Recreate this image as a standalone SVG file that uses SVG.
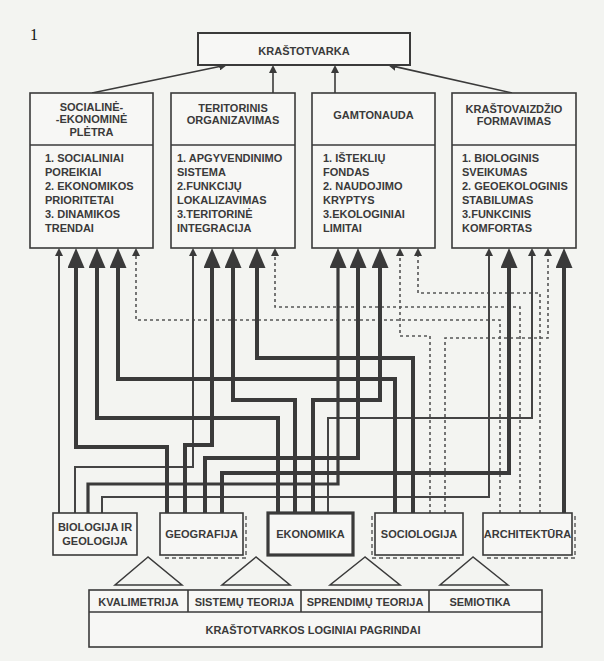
<svg xmlns="http://www.w3.org/2000/svg" width="604" height="661" viewBox="0 0 604 661">
<style>
  .box{fill:#f7f7f5;stroke:#3a3a3a;stroke-width:1.6}
  .sep{stroke:#3a3a3a;stroke-width:1.6}
  .t{font-family:"Liberation Sans",Arial,sans-serif;font-weight:bold;font-size:11px;fill:#3a3a3a}
  .c{text-anchor:middle}
  .thick{fill:none;stroke:#3a3a3a;stroke-width:4;marker-end:url(#big)}
  .mid{fill:none;stroke:#3a3a3a;stroke-width:3.2;marker-end:url(#big)}
  .thin{fill:none;stroke:#444;stroke-width:2;marker-end:url(#small)}
  .dot{fill:none;stroke:#555;stroke-width:1.6;stroke-dasharray:3 3;marker-end:url(#small)}
  .tl{fill:none;stroke:#3a3a3a;stroke-width:1.6;marker-end:url(#small)}
  .dsh{fill:none;stroke:#555;stroke-width:1.4;stroke-dasharray:4 3}
  .tri{fill:#f3f4f1;stroke:#3a3a3a;stroke-width:1.5}
</style>
<defs>
  <marker id="big" viewBox="0 0 20 17" refX="12" refY="8.5" markerWidth="20" markerHeight="17" markerUnits="userSpaceOnUse" orient="auto">
    <path d="M0,0 L20,8.5 L0,17 z" fill="#3a3a3a"/>
  </marker>
  <marker id="small" viewBox="0 0 8 8" refX="4" refY="4" markerWidth="8" markerHeight="8" markerUnits="userSpaceOnUse" orient="auto">
    <path d="M0,0 L8,4 L0,8 z" fill="#3a3a3a"/>
  </marker>
</defs>
<rect x="0" y="0" width="604" height="661" fill="#f3f4f1"/>
<text x="30" y="40" font-family="Liberation Serif,serif" font-size="16" fill="#111">1</text>

<g id="connectors">
  <!-- to title -->
  <path class="tl" d="M92,93 L223.1,65.8"/>
  <path class="tl" d="M273,93 V69"/>
  <path class="tl" d="M335,93 V69"/>
  <path class="tl" d="M512,93 L391.9,65.9"/>
  <!-- dotted -->
  <path class="dot" d="M500,513 V320 H136 V252"/>
  <path class="dot" d="M520,513 V307 H275 V252"/>
  <path class="dot" d="M430,513 V336 H400 V252"/>
  <path class="dot" d="M540,513 V293 H418 V252"/>
  <path class="dot" d="M445,513 V338 H548 V252"/>
  <!-- thin -->
  <path class="thin" d="M59,513 V252"/>
  <path class="thin" d="M75,513 V467 H193 V252"/>
  <path class="thin" d="M102,513 V497 H489 V252"/>
  <path class="thin" d="M328,513 V418 H532 V252"/>
  <!-- thick -->
  <path class="thick" d="M167,513 V447 H76 V256"/>
  <path class="thick" d="M278,513 V418 H97 V256"/>
  <path class="thick" d="M395,513 V379 H118 V256"/>
  <path class="thick" d="M185,513 V445 H212 V256"/>
  <path class="thick" d="M295,513 V400 H233 V256"/>
  <path class="thick" d="M413,513 V358 H257 V256"/>
  <path class="mid" d="M88,513 V484 H338 V256"/>
  <path class="thick" d="M205,513 V458 H358 V256"/>
  <path class="thick" d="M313,513 V400 H380 V256"/>
  <path class="thick" d="M222,513 V473 H509 V256"/>
  <path class="thick" d="M564,513 V256"/>
</g>

<g id="kraštotvarka">
  <rect x="198" y="33" width="212" height="32" fill="#f7f7f5" stroke="#3a3a3a" stroke-width="2"/>
  <text class="t c" x="304" y="55" font-size="16">KRAŠTOTVARKA</text>
</g>

<g id="socialine-ekonomine-pletra">
  <rect class="box" x="30" y="93" width="123" height="155"/>
  <line class="sep" x1="30" y1="145" x2="153" y2="145"/>
  <text class="t c" x="91.5" y="111">SOCIALINĖ-</text>
  <text class="t c" x="91.5" y="123">-EKONOMINĖ</text>
  <text class="t c" x="91.5" y="136">PLĖTRA</text>
  <text class="t" x="45" y="162">1.  SOCIALINIAI</text>
  <text class="t" x="45" y="176">POREIKIAI</text>
  <text class="t" x="45" y="190">2. EKONOMIKOS</text>
  <text class="t" x="45" y="204">PRIORITETAI</text>
  <text class="t" x="45" y="218">3. DINAMIKOS</text>
  <text class="t" x="45" y="232">TRENDAI</text>
</g>

<g id="teritorinis-organizavimas">
  <rect class="box" x="171" y="93" width="124" height="155"/>
  <line class="sep" x1="171" y1="145" x2="295" y2="145"/>
  <text class="t c" x="233" y="112">TERITORINIS</text>
  <text class="t c" x="233" y="124">ORGANIZAVIMAS</text>
  <text class="t" x="177" y="162">1. APGYVENDINIMO</text>
  <text class="t" x="177" y="176">SISTEMA</text>
  <text class="t" x="177" y="190">2.FUNKCIJŲ</text>
  <text class="t" x="177" y="204">LOKALIZAVIMAS</text>
  <text class="t" x="177" y="218">3.TERITORINĖ</text>
  <text class="t" x="177" y="232">INTEGRACIJA</text>
</g>

<g id="gamtonauda">
  <rect class="box" x="312" y="93" width="123" height="155"/>
  <line class="sep" x1="312" y1="145" x2="435" y2="145"/>
  <text class="t c" x="373.5" y="119">GAMTONAUDA</text>
  <text class="t" x="323" y="162">1. IŠTEKLIŲ</text>
  <text class="t" x="323" y="176">FONDAS</text>
  <text class="t" x="323" y="190">2. NAUDOJIMO</text>
  <text class="t" x="323" y="204">KRYPTYS</text>
  <text class="t" x="323" y="218">3.EKOLOGINIAI</text>
  <text class="t" x="323" y="232">LIMITAI</text>
</g>

<g id="kraštovaizdzio-formavimas">
  <rect class="box" x="452" y="93" width="124" height="155"/>
  <line class="sep" x1="452" y1="145" x2="576" y2="145"/>
  <text class="t c" x="514" y="113">KRAŠTOVAIZDŽIO</text>
  <text class="t c" x="514" y="125">FORMAVIMAS</text>
  <text class="t" x="462" y="162">1.  BIOLOGINIS</text>
  <text class="t" x="462" y="176">SVEIKUMAS</text>
  <text class="t" x="462" y="190">2. GEOEKOLOGINIS</text>
  <text class="t" x="462" y="204">STABILUMAS</text>
  <text class="t" x="462" y="218">3.FUNKCINIS</text>
  <text class="t" x="462" y="232">KOMFORTAS</text>
</g>

<g id="biologija-ir-geologija">
  <rect class="box" x="53" y="513" width="84" height="42"/>
  <text class="t c" x="95" y="531">BIOLOGIJA IR</text>
  <text class="t c" x="95" y="545">GEOLOGIJA</text>
</g>

<g id="geografija">
  <rect class="box" x="160" y="513" width="83" height="42"/>
  <path class="dsh" d="M246,516 V558 H163"/>
  <text class="t c" x="201.5" y="538">GEOGRAFIJA</text>
</g>

<g id="ekonomika">
  <rect x="268" y="513" width="85" height="42" fill="#f7f7f5" stroke="#3a3a3a" stroke-width="3.2"/>
  <text class="t c" x="310.5" y="538">EKONOMIKA</text>
</g>

<g id="sociologija">
  <rect class="box" x="375" y="513" width="88" height="42"/>
  <path class="dsh" d="M372,516 V558 H460"/>
  <text class="t c" x="419" y="538">SOCIOLOGIJA</text>
</g>

<g id="architektura">
  <rect class="box" x="483" y="513" width="89" height="42"/>
  <path class="dsh" d="M575,516 V558 H486"/>
  <text class="t c" x="527.5" y="538" font-size="10.5">ARCHITEKTŪRA</text>
</g>

<g id="triangles">
  <polygon class="tri" points="148,557 115,585 182,585"/>
  <polygon class="tri" points="256,557 222,585 290,585"/>
  <polygon class="tri" points="365,557 330,585 400,585"/>
  <polygon class="tri" points="473,557 440,585 508,585"/>
</g>

<g id="loginiai-pagrindai">
  <rect class="box" x="89" y="590" width="453" height="57"/>
  <line class="sep" x1="89" y1="612" x2="542" y2="612"/>
  <line class="sep" x1="188" y1="590" x2="188" y2="612"/>
  <line class="sep" x1="301" y1="590" x2="301" y2="612"/>
  <line class="sep" x1="429" y1="590" x2="429" y2="612"/>
  <text class="t c" x="138.5" y="606">KVALIMETRIJA</text>
  <text class="t c" x="244.5" y="606">SISTEMŲ TEORIJA</text>
  <text class="t c" x="365" y="606">SPRENDIMŲ TEORIJA</text>
  <text class="t c" x="480" y="606">SEMIOTIKA</text>
  <text class="t c" x="313" y="634">KRAŠTOTVARKOS LOGINIAI PAGRINDAI</text>
</g>
</svg>
